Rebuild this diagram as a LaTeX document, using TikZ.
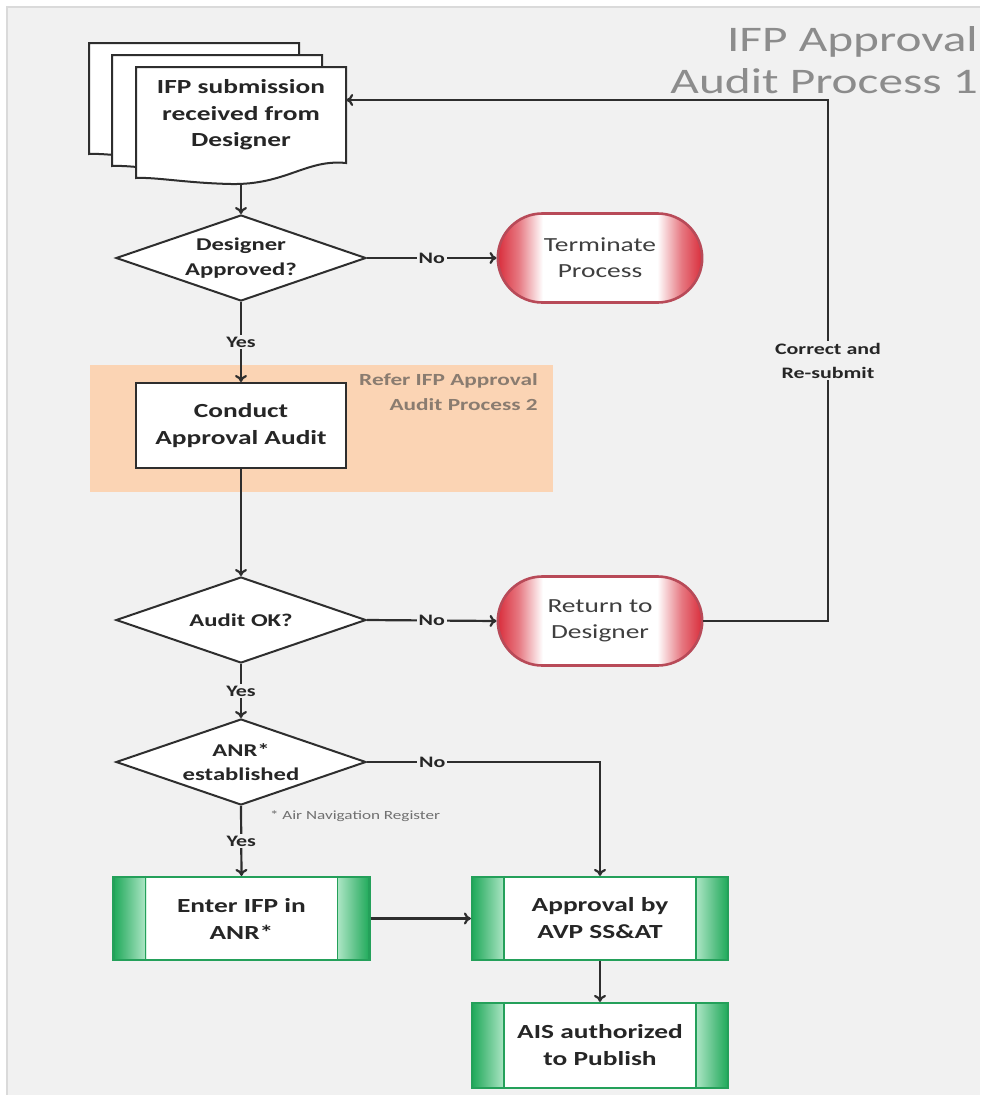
\documentclass[tikz,border=0pt]{standalone}
\usepackage{fontspec}
\setmainfont{Carlito}[FakeStretch=1.37]
\usetikzlibrary{arrows.meta,shapes.geometric,shapes.misc}

\definecolor{bg}{HTML}{F1F1F1}
\definecolor{edgegray}{HTML}{DADADA}
\definecolor{lineC}{HTML}{2E2E2E}
\definecolor{txt}{HTML}{262626}
\definecolor{softtxt}{HTML}{3F3F3F}
\definecolor{titlegray}{HTML}{8C8C8C}
\definecolor{refergray}{HTML}{8A7C70}
\definecolor{notegray}{HTML}{707070}
\definecolor{orangebg}{HTML}{FBD4B4}
\definecolor{termred}{HTML}{D92E3C}
\definecolor{termborder}{HTML}{B84A58}
\definecolor{gdark}{HTML}{1FAA5A}
\definecolor{glight}{HTML}{AEE6C6}
\definecolor{gborder}{HTML}{24A05A}

% red ends of the terminator pills (path box maps to 25bp..75bp)
\pgfdeclarehorizontalshading{endshade}{100bp}{color(0bp)=(termred); color(25bp)=(termred); color(30bp)=(termred!65); color(36bp)=(white); color(64bp)=(white); color(70bp)=(termred!65); color(75bp)=(termred); color(100bp)=(termred)}
% green side bands of the predefined-process boxes
\pgfdeclarehorizontalshading{procshade}{100bp}{color(0bp)=(gdark); color(25bp)=(gdark); color(27bp)=(gdark!80); color(31.3bp)=(glight); color(31.4bp)=(white); color(68.6bp)=(white); color(68.7bp)=(glight); color(73bp)=(gdark!80); color(75bp)=(gdark); color(100bp)=(gdark)}

\tikzset{
  arrow/.style={draw=lineC, line width=2.2pt, -{To[length=7pt,width=12pt]}},
  docline/.style={draw=lineC, line width=2pt, fill=white, line join=miter},
  decision/.style={diamond, draw=lineC, line width=2pt, fill=white,
    minimum width=250pt, minimum height=86pt, aspect=2.9, inner sep=0pt,
    align=center, text=txt, font=\fontsize{18}{24.5}\selectfont\bfseries},
  terminal/.style={rounded rectangle, draw=termborder, line width=2.6pt,
    shading=endshade, minimum width=211pt, minimum height=89pt,
    align=center, text=softtxt, font=\fontsize{20}{26}\selectfont},
  taskbox/.style={rectangle, draw=lineC, line width=2pt, fill=white,
    minimum width=210pt, minimum height=85pt,
    align=center, text=txt, font=\fontsize{20}{27}\selectfont\bfseries},
  procbox/.style={rectangle, draw=gborder, line width=2.2pt, shading=procshade,
    minimum width=256pt, minimum height=83pt,
    align=center, text=txt, font=\fontsize{20}{27}\selectfont\bfseries},
  lbl/.style={fill=bg, inner sep=2pt, align=center, text=txt,
    font=\fontsize{16}{24}\selectfont\bfseries},
}

\begin{document}
\begin{tikzpicture}[x=1pt,y=-1pt]
\useasboundingbox (0,0) rectangle (980,1095);

% page panel
\fill[white] (0,0) rectangle (980,1095);
\fill[bg] (7,7) rectangle (980,1095);
\draw[edgegray, line width=2pt] (7,1095) -- (7,7) -- (980,7);

% title
\node[anchor=north east, align=right, inner sep=0pt, text=titlegray,
      font=\fontsize{36}{42}\selectfont] (title) at (978,26)
      {IFP Approval\\Audit Process 1};

% stacked documents
\foreach \l/\t in {89/43, 112/55, 136/67}{
  \draw[docline] (\l,\t) -- ({\l+210},\t) -- ({\l+210},{\t+96})
    .. controls ({\l+170},{\t+92}) and ({\l+150},{\t+118}) .. ({\l+95},{\t+117})
    .. controls ({\l+50},{\t+116}) and ({\l+20},{\t+110}) .. (\l,{\t+111}) -- cycle;
}
\node[minimum width=210pt, minimum height=94pt, inner sep=0pt, align=center,
      text=txt, font=\fontsize{20}{26.5}\selectfont\bfseries] (doc) at (241,115)
      {IFP submission\\received from\\Designer};
\coordinate (docb) at (241,183);

% sub-process highlight
\fill[orangebg] (90,365) rectangle (553,492);
\node[anchor=north east, align=right, inner sep=0pt, text=refergray,
      font=\fontsize{17}{25}\selectfont\bfseries] (refer) at (538,373)
      {Refer IFP Approval\\Audit Process 2};

% flow nodes
\node[decision] (d1) at (241,258) {Designer\\Approved?};
\node[terminal] (term) at (600,258) {Terminate\\Process};
\node[taskbox] (audit) at (241,425.5) {Conduct\\Approval Audit};
\node[decision] (d2) at (241,620) {Audit OK?};
\node[terminal] (ret) at (600,621) {Return to\\Designer};
\node[decision] (d3) at (241,762) {ANR*\\established};
\node[text=notegray, inner sep=0pt, font=\fontsize{12.5}{14}\selectfont] (note) at (355,816)
      {* Air Navigation Register};
\node[procbox] (enter) at (241.5,918.5) {Enter IFP in\\ANR*};
\node[procbox] (appr) at (600,918.5) {Approval by\\AVP SS\&AT};
\node[procbox, minimum height=85pt] (ais) at (600,1045.5) {AIS authorized\\to Publish};

% inner divider lines of the process boxes
\foreach \n in {enter,appr,ais}{
  \draw[gborder, line width=1.6pt] ([xshift=33pt]\n.north west) -- ([xshift=33pt]\n.south west);
  \draw[gborder, line width=1.6pt] ([xshift=-33pt]\n.north east) -- ([xshift=-33pt]\n.south east);
}

% connectors
\coordinate (fbtop) at (828,100);
\draw[arrow] (docb) -- (d1.north);
\draw[arrow] (d1.east) -- node[lbl]{No} (term.west);
\draw[arrow] (d1.south) -- node[lbl]{Yes} (audit.north);
\draw[arrow] (audit.south) -- (d2.north);
\draw[arrow] (d2.east) -- node[lbl]{No} (ret.west);
\draw[arrow] (ret.east) -| node[pos=0.75, lbl]{Correct and\\Re-submit} (fbtop)
  -- ([yshift=15pt]doc.east);
\draw[arrow] (d2.south) -- node[lbl]{Yes} (d3.north);
\draw[arrow] (d3.east) -| node[pos=0.14, lbl]{No} (appr.north);
\draw[arrow] (d3.south) -- node[lbl]{Yes} (enter.north);
\draw[arrow] (enter.east) -- (appr.west);
\draw[arrow] (appr.south) -- (ais.north);
\end{tikzpicture}
\end{document}
